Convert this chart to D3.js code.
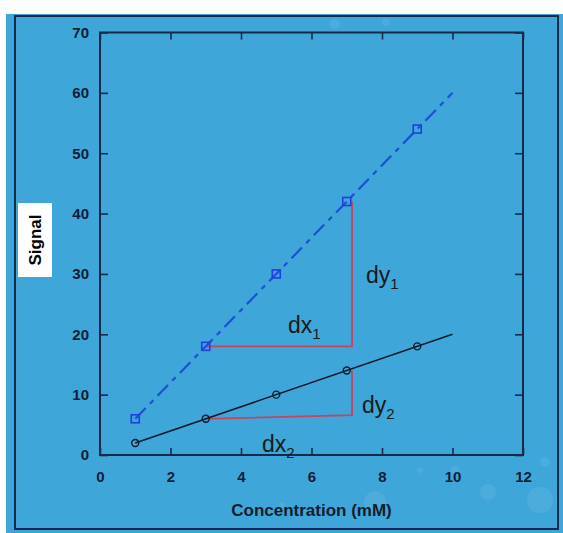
<!DOCTYPE html>
<html>
<head>
<meta charset="utf-8">
<script src="https://cdn.jsdelivr.net/npm/d3@7"></script>
<style>
  body { margin: 0; background: #fff; }
  svg { display: block; }
</style>
</head>
<body>
<div id="chart"></div>
<script>
// data
var concentration = [1, 3, 5, 7, 9],
    signal1 = [6, 18, 30, 42, 54],
    signal2 = [2, 6, 10, 14, 18],
    fitX = [1, 10],
    fit1 = [6, 60],
    fit2 = [2, 20],
    xTicks = [0, 2, 4, 6, 8, 10, 12],
    yTicks = [0, 10, 20, 30, 40, 50, 60, 70],
    slope1 = [[3, 18], [7.15, 18], [7.15, 42]],
    slope2 = [[3, 6], [7.15, 6.6], [7.15, 14]];

var width = 563, height = 533,
    plotLeft = 100, plotRight = 523, plotTop = 32.5, plotBottom = 455,
    axisColor = "#172a4c",
    bg = "#3ea6d8";

var svg = d3.select("#chart")
    .append("svg")
    .attr("width", width)
    .attr("height", height);

// page background
svg.append("rect")
    .attr("x", 6).attr("y", 14)
    .attr("width", width - 6).attr("height", height - 14)
    .attr("fill", bg);

// faint molecule decoration
var deco = [[540, 500, 13], [488, 492, 8], [455, 470, 4], [375, 502, 11], [545, 462, 5],
            [335, 24, 5], [386, 22, 4], [282, 505, 3], [420, 470, 3]];
svg.append("g")
    .selectAll("circle")
    .data(deco)
    .enter()
    .append("circle")
    .attr("cx", (d) => d[0])
    .attr("cy", (d) => d[1])
    .attr("r", (d) => d[2])
    .attr("fill", "#6dbde6")
    .attr("opacity", 0.3);

// outer frame
svg.append("rect")
    .attr("x", 15).attr("y", 16)
    .attr("width", 543).attr("height", 513)
    .attr("fill", "none")
    .attr("stroke", axisColor)
    .attr("stroke-width", 2);

var x = d3.scaleLinear().domain([0, 12]).range([plotLeft, plotRight]);
var y = d3.scaleLinear().domain([0, 70]).range([plotBottom, plotTop]);

function styleAxis(g, showText) {
    g.select(".domain").remove();
    g.selectAll("line").attr("stroke", axisColor).attr("stroke-width", 1.6);
    g.selectAll("text")
        .attr("fill", "#101d36")
        .style("font", "bold 15px 'Liberation Sans', Arial, sans-serif")
        .style("display", showText ? null : "none");
}

svg.append("g")
    .attr("transform", "translate(0," + plotBottom + ")")
    .call(d3.axisBottom(x).tickValues(xTicks).tickSize(-7).tickPadding(16).tickFormat(d3.format("d")))
    .call((g) => styleAxis(g, true));

svg.append("g")
    .attr("transform", "translate(0," + plotTop + ")")
    .call(d3.axisTop(x).tickValues(xTicks).tickSize(-7))
    .call((g) => styleAxis(g, false));

svg.append("g")
    .attr("transform", "translate(" + plotLeft + ",0)")
    .call(d3.axisLeft(y).tickValues(yTicks).tickSize(-8).tickPadding(11).tickFormat(d3.format("d")))
    .call((g) => styleAxis(g, true));

svg.append("g")
    .attr("transform", "translate(" + plotRight + ",0)")
    .call(d3.axisRight(y).tickValues(yTicks).tickSize(-8))
    .call((g) => styleAxis(g, false));

// plot box
svg.append("rect")
    .attr("x", plotLeft).attr("y", plotTop)
    .attr("width", plotRight - plotLeft).attr("height", plotBottom - plotTop)
    .attr("fill", "none")
    .attr("stroke", axisColor)
    .attr("stroke-width", 2);

// red slope triangles
var redLine = d3.line().x((d) => x(d[0])).y((d) => y(d[1]));
[slope1, slope2].forEach(function (s) {
    svg.append("path")
        .attr("d", redLine(s))
        .attr("fill", "none")
        .attr("stroke", "#c8435c")
        .attr("stroke-width", 1.8);
});

// fitted lines
var fitLine = d3.line().x((d) => x(d[0])).y((d) => y(d[1]));
svg.append("path")
    .attr("d", fitLine(d3.zip(fitX, fit1)))
    .attr("fill", "none")
    .attr("stroke", "#1f4fd6")
    .attr("stroke-width", 2.2)
    .attr("stroke-dasharray", "15,6,5,6");

svg.append("path")
    .attr("d", fitLine(d3.zip(fitX, fit2)))
    .attr("fill", "none")
    .attr("stroke", "#111a2a")
    .attr("stroke-width", 1.6);

// markers
svg.append("g")
    .selectAll("rect")
    .data(d3.zip(concentration, signal1))
    .enter()
    .append("rect")
    .attr("x", (d) => x(d[0]) - 4)
    .attr("y", (d) => y(d[1]) - 4)
    .attr("width", 8)
    .attr("height", 8)
    .attr("fill", "none")
    .attr("stroke", "#1f3fe0")
    .attr("stroke-width", 1.6);

svg.append("g")
    .selectAll("circle")
    .data(d3.zip(concentration, signal2))
    .enter()
    .append("circle")
    .attr("cx", (d) => x(d[0]))
    .attr("cy", (d) => y(d[1]))
    .attr("r", 3.5)
    .attr("fill", "none")
    .attr("stroke", "#111a2a")
    .attr("stroke-width", 1.4);

// dx / dy labels
var labels = [
    {t: "dx", s: "1", px: 288, py: 333},
    {t: "dy", s: "1", px: 366, py: 283},
    {t: "dy", s: "2", px: 362, py: 413},
    {t: "dx", s: "2", px: 262, py: 452}
];
labels.forEach(function (l) {
    var t = svg.append("text")
        .attr("x", l.px)
        .attr("y", l.py)
        .attr("fill", "#1a1a1a")
        .style("font", "23px 'Liberation Sans', Arial, sans-serif");
    t.append("tspan").text(l.t);
    t.append("tspan")
        .attr("dy", 6)
        .style("font-size", "15px")
        .text(l.s);
});

// axis titles
svg.append("text")
    .attr("x", (plotLeft + plotRight) / 2)
    .attr("y", 516)
    .attr("text-anchor", "middle")
    .attr("fill", "#131c2c")
    .style("font", "bold 17px 'Liberation Sans', Arial, sans-serif")
    .text("Concentration (mM)");

svg.append("rect")
    .attr("x", 18).attr("y", 203)
    .attr("width", 34).attr("height", 74)
    .attr("fill", "#ffffff");

svg.append("text")
    .attr("transform", "translate(41,240) rotate(-90)")
    .attr("text-anchor", "middle")
    .attr("fill", "#000")
    .style("font", "bold 17px 'Liberation Sans', Arial, sans-serif")
    .text("Signal");
</script>
</body>
</html>
